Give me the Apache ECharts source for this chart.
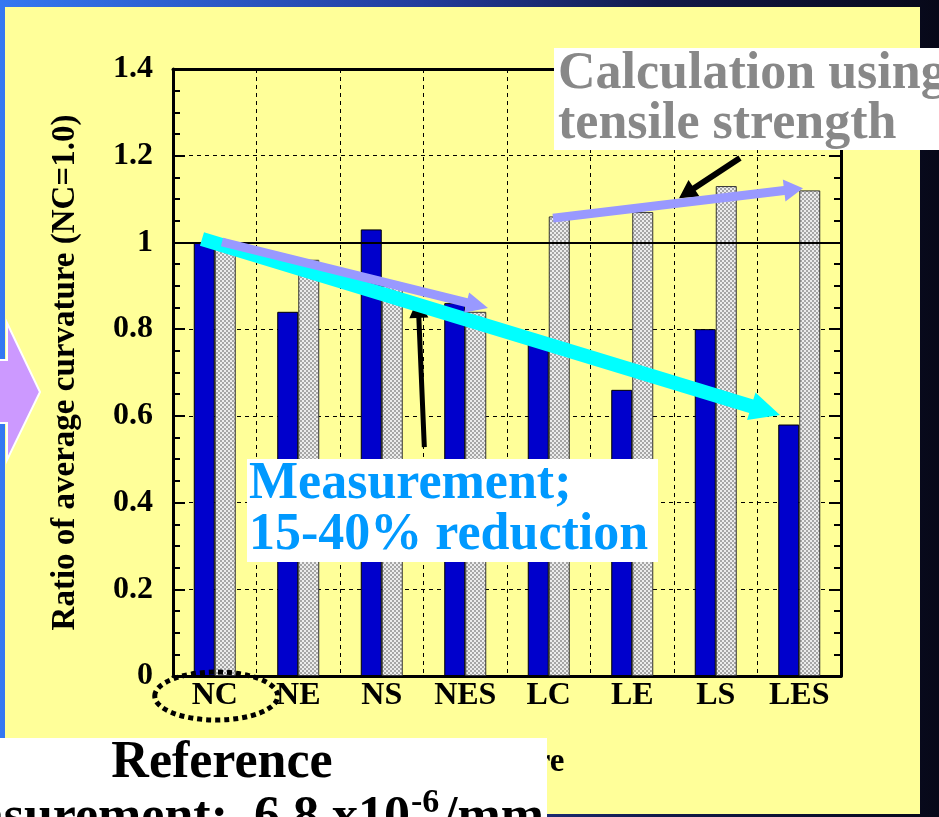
<!DOCTYPE html>
<html>
<head>
<meta charset="utf-8">
<script src="https://cdn.jsdelivr.net/npm/echarts@6/dist/echarts.min.js"></script>
<style>
  html, body { margin: 0; padding: 0; background: #0a0c24; overflow: hidden; }
  #chart { width: 939px; height: 817px; }
</style>
</head>
<body>
<div id="chart"></div>
<script>
// Mix designs along the x axis
const categories = ['NC', 'NE', 'NS', 'NES', 'LC', 'LE', 'LS', 'LES'];
// Measured average curvature, relative to NC
const measured = [1.00, 0.84, 1.03, 0.86, 0.78, 0.66, 0.80, 0.58];
// Curvature calculated from tensile strength, relative to NC
const calculated = [1.00, 0.96, 0.90, 0.84, 1.06, 1.07, 1.13, 1.12];
// Value axis ticks
const yTicks = [0, 0.2, 0.4, 0.6, 0.8, 1.0, 1.2, 1.4];
// Reference line (NC = 1.0)
const referenceLevel = 1.0;

// Annotation arrows, in axis units: [fromIndex, fromRatio, toIndex, toRatio]
const trendArrows = [
  [2.51, 0.528, 2.434, 0.872],   // pointer to the measured trend
  [6.29, 1.195, 5.56, 1.102],    // pointer to the calculated trend
  [-0.153, 1.008, 6.769, 0.602], // measured trend
  [0.087, 1.001, 3.272, 0.849],  // calculated trend, N series
  [4.051, 1.056, 7.045, 1.125]   // calculated trend, L series
];
const arrowStyles = [
  { color: '#000000', width: 5, headLen: 20, headW: 19 },
  { color: '#000000', width: 6, headLen: 18, headW: 20 },
  { color: '#00FFFF', width: 14, headLen: 30, headW: 29 },
  { color: '#9999FF', width: 9, headLen: 22, headW: 21 },
  { color: '#9999FF', width: 9, headLen: 19, headW: 22 }
];

const serif = '"Liberation Serif", "Times New Roman", serif';
const W = 939, H = 817;

// checkered fill for the calculated bars
const tile = document.createElement('canvas');
tile.width = 4; tile.height = 4;
(function () {
  const c = tile.getContext('2d');
  c.fillStyle = '#ececec'; c.fillRect(0, 0, 4, 4);
  c.fillStyle = '#a6a6a6'; c.fillRect(0, 0, 2, 2); c.fillRect(2, 2, 2, 2);
})();

function arrowItem(params, api) {
  const st = arrowStyles[params.dataIndex];
  const a = api.coord([api.value(0), api.value(1)]);
  const b = api.coord([api.value(2), api.value(3)]);
  const dx = b[0] - a[0], dy = b[1] - a[1];
  const len = Math.sqrt(dx * dx + dy * dy);
  const ux = dx / len, uy = dy / len, nx = -uy, ny = ux;
  const bx = b[0] - ux * st.headLen, by = b[1] - uy * st.headLen;
  const w = st.width / 2, h = st.headW / 2;
  return {
    type: 'polygon',
    shape: { points: [
      [a[0] + nx * w, a[1] + ny * w],
      [bx + nx * w, by + ny * w],
      [bx + nx * h, by + ny * h],
      [b[0], b[1]],
      [bx - nx * h, by - ny * h],
      [bx - nx * w, by - ny * w],
      [a[0] - nx * w, a[1] - ny * w]
    ] },
    style: { fill: st.color, stroke: null }
  };
}

const boldText = (x, y, text, size, color, align, z) => ({
  type: 'text', x: x, y: y, z: z || 101, silent: true,
  style: { text: text, fill: color, font: 'bold ' + size + 'px ' + serif,
           textAlign: align || 'left', textVerticalAlign: 'middle' }
});

function decorations(ncX) {
  return [
    // slide frame and panel
    { type: 'rect', z: -100, silent: true, shape: { x: 0, y: 0, width: W, height: H },
      style: { fill: new echarts.graphic.LinearGradient(0, 0, 1, 0, [
        { offset: 0, color: '#3478f2' }, { offset: 0.45, color: '#223c9c' },
        { offset: 0.7, color: '#121a4a' }, { offset: 1, color: '#070818' }]) } },
    { type: 'rect', z: -99, silent: true, shape: { x: 5, y: 7, width: 915, height: 807 },
      style: { fill: '#FFFF99' } },
    { type: 'polygon', z: -98, silent: true,
      shape: { points: [[-6, 360], [7, 360], [7, 323], [40, 392], [7, 460], [7, 423], [-6, 423]] },
      style: { fill: '#CC99FF', stroke: '#ffffff', lineWidth: 2 } },
    // reference specimen marker
    { type: 'ellipse', z: 50, silent: true, shape: { cx: ncX + 1.5, cy: 696, rx: 61.5, ry: 24 },
      style: { fill: null, stroke: '#000000', lineWidth: 5, lineDash: [5, 4] } },
    // callout: calculation
    { type: 'rect', z: 100, silent: true, shape: { x: 554, y: 48, width: 400, height: 102 },
      style: { fill: '#ffffff' } },
    boldText(558, 75, 'Calculation using', 52, '#888888'),
    boldText(558, 125, 'tensile strength', 52, '#888888'),
    // callout: measurement
    { type: 'rect', z: 100, silent: true, shape: { x: 247, y: 459, width: 411, height: 103 },
      style: { fill: '#ffffff' } },
    boldText(249, 485, 'Measurement;', 52, '#0099FF'),
    boldText(249, 536, '15-40% reduction', 52, '#0099FF'),
    // reference value box
    { type: 'rect', z: 100, silent: true, shape: { x: -2, y: 738, width: 549, height: 90 },
      style: { fill: '#ffffff' } },
    boldText(222, 764, 'Reference', 52, '#000000', 'center'),
    boldText(410, 819, 'Measurement:  6.8 x10', 52, '#000000', 'right'),
    boldText(411, 803, '-6', 34, '#000000', 'left'),
    boldText(443, 819, '/mm', 52, '#000000', 'left')
  ];
}

const chart = echarts.init(document.getElementById('chart'), null, { renderer: 'canvas' });

const catAxisBase = {
  type: 'category', data: categories, boundaryGap: true,
  axisLine: { onZero: false, lineStyle: { color: '#000', width: 3 } },
  axisTick: { inside: true, interval: 0, length: 10, lineStyle: { color: '#000', width: 2 } }
};
const valAxisBase = {
  type: 'value', min: yTicks[0], max: yTicks[yTicks.length - 1], interval: yTicks[1] - yTicks[0],
  axisLine: { show: true, onZero: false, lineStyle: { color: '#000', width: 3 } },
  axisTick: { show: true, inside: true, length: 12, lineStyle: { color: '#000', width: 2 } },
  minorTick: { show: true, splitNumber: 4, length: 7, lineStyle: { color: '#000', width: 2 } }
};

chart.setOption({
  animation: false,
  backgroundColor: 'transparent',
  grid: { left: 173, right: 98, top: 69, bottom: 141, containLabel: false },
  xAxis: [
    Object.assign({}, catAxisBase, {
      position: 'bottom',
      name: 'Mixture', nameLocation: 'middle', nameGap: 70,
      nameTextStyle: { color: '#000', fontFamily: serif, fontWeight: 'bold', fontSize: 33 },
      axisLabel: { interval: 0, margin: 4, color: '#000', fontFamily: serif, fontWeight: 'bold', fontSize: 32 },
      splitLine: { show: true, interval: 0, lineStyle: { color: '#000', width: 1, type: [4, 4] } }
    }),
    Object.assign({}, catAxisBase, {
      position: 'top',
      axisLabel: { show: false },
      splitLine: { show: false }
    }),
    { type: 'value', show: false, min: -0.5, max: categories.length - 0.5 }
  ],
  yAxis: [
    Object.assign({}, valAxisBase, {
      position: 'left',
      name: 'Ratio of average curvature (NC=1.0)', nameLocation: 'middle', nameGap: 91,
      nameTextStyle: { color: '#000', fontFamily: serif, fontWeight: 'bold', fontSize: 33 },
      axisLabel: { margin: 20, color: '#000', fontFamily: serif, fontWeight: 'bold', fontSize: 32 },
      splitLine: { show: true, lineStyle: { color: '#000', width: 1, type: [4, 4] } }
    }),
    Object.assign({}, valAxisBase, {
      position: 'right',
      axisLabel: { show: false },
      splitLine: { show: false }
    })
  ],
  series: [
    {
      name: 'Measurement', type: 'bar', data: measured,
      barWidth: 21, barGap: '0%',
      itemStyle: { color: '#0000CC', borderColor: '#000', borderWidth: 1 }
    },
    {
      name: 'Calculation', type: 'bar', data: calculated,
      barWidth: 21, barGap: '0%',
      itemStyle: { color: { image: tile, repeat: 'repeat' }, borderColor: '#333', borderWidth: 1 },
      markLine: {
        silent: true, symbol: 'none', z: 5,
        label: { show: false },
        lineStyle: { color: '#000', width: 2, type: 'solid' },
        data: [{ yAxis: referenceLevel }]
      }
    },
    {
      name: 'Trends', type: 'custom', xAxisIndex: 2, yAxisIndex: 0, z: 6, silent: true,
      clip: false,
      renderItem: arrowItem,
      encode: { x: [0, 2], y: [1, 3] },
      data: trendArrows
    }
  ]
});

const ncX = chart.convertToPixel({ xAxisIndex: 0 }, categories[0]);
chart.setOption({ graphic: { elements: decorations(ncX) } });
</script>
</body>
</html>
